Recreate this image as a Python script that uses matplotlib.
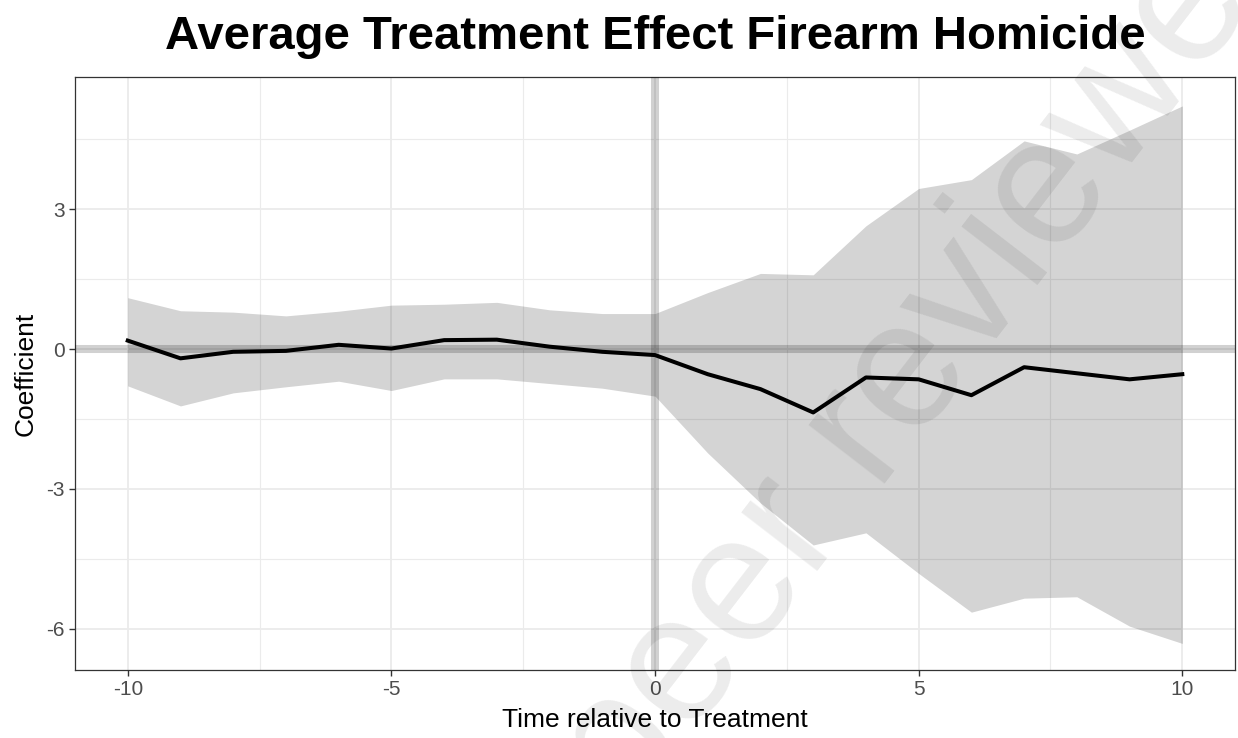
import matplotlib
matplotlib.use('Agg')
import matplotlib.pyplot as plt
import matplotlib.ticker as ticker
import numpy as np

# event time relative to treatment
time = [-10, -9, -8, -7, -6, -5, -4, -3, -2, -1, 0, 1, 2, 3, 4, 5, 6, 7, 8, 9, 10]
coef = [0.18, -0.20, -0.06, -0.04, 0.09, 0.01, 0.19, 0.20, 0.05, -0.06, -0.13,
        -0.54, -0.86, -1.36, -0.61, -0.65, -0.99, -0.39, -0.52, -0.65, -0.54]
upper = [1.10, 0.82, 0.79, 0.71, 0.81, 0.94, 0.96, 1.00, 0.84, 0.76, 0.76,
         1.21, 1.62, 1.59, 2.64, 3.44, 3.63, 4.46, 4.18, 4.69, 5.21]
lower = [-0.79, -1.22, -0.94, -0.81, -0.69, -0.89, -0.64, -0.64, -0.74, -0.84, -1.01,
         -2.23, -3.30, -4.20, -3.94, -4.81, -5.64, -5.34, -5.31, -5.94, -6.31]
xticks = [-10, -5, 0, 5, 10]
yticks = [-6, -3, 0, 3]

plt.rcParams['font.family'] = ['Liberation Sans', 'DejaVu Sans']

fig = plt.figure(figsize=(12.38, 7.38), dpi=100)
ax = fig.add_axes([0.0606, 0.0921, 0.9370, 0.8036])

ax.set_xlim(-11.0, 11.0)
ax.set_ylim(-6.88, 5.83)
ax.set_xticks(xticks)
ax.set_yticks(yticks)
ax.set_xticks([-7.5, -2.5, 2.5, 7.5], minor=True)
ax.set_yticks([-4.5, -1.5, 1.5, 4.5], minor=True)
ax.set_axisbelow(True)
ax.grid(which='major', color='#EBEBEB', lw=1.3)
ax.grid(which='minor', color='#EBEBEB', lw=0.8)
ax.tick_params(which='minor', length=0)
ax.tick_params(which='major', length=4.3, width=1.0, color='#333333',
               labelsize=15, labelcolor='#4D4D4D', pad=3)
for s in ax.spines.values():
    s.set_color('#333333')
    s.set_linewidth(0.9)

ax.fill_between(time, lower, upper, color='black', alpha=0.17, lw=0, zorder=2)
ax.axhline(0, color='black', alpha=0.18, lw=5.8, zorder=3)
ax.axvline(0, color='black', alpha=0.18, lw=5.8, zorder=3)
ax.plot(time, coef, color='black', lw=2.9, zorder=4)

ax.set_xlabel('Time relative to Treatment', fontsize=19, labelpad=6)
ax.set_ylabel('Coefficient', fontsize=19, labelpad=6)
ax.yaxis.set_major_formatter(ticker.FuncFormatter(lambda v, p: '%d' % v))
ax.xaxis.set_major_formatter(ticker.FuncFormatter(lambda v, p: '%d' % v))

fig.text(0.529, 0.950, 'Average Treatment Effect Firearm Homicide',
         fontsize=34, fontweight='bold', ha='center', va='center')

# watermark
fig.text(0.756, 0.538, 'peer reviewed', fontsize=130, rotation=52.4,
         color='black', alpha=0.08, ha='center', va='center',
         rotation_mode='anchor', zorder=10)

fig.savefig('out.png', dpi=100)
